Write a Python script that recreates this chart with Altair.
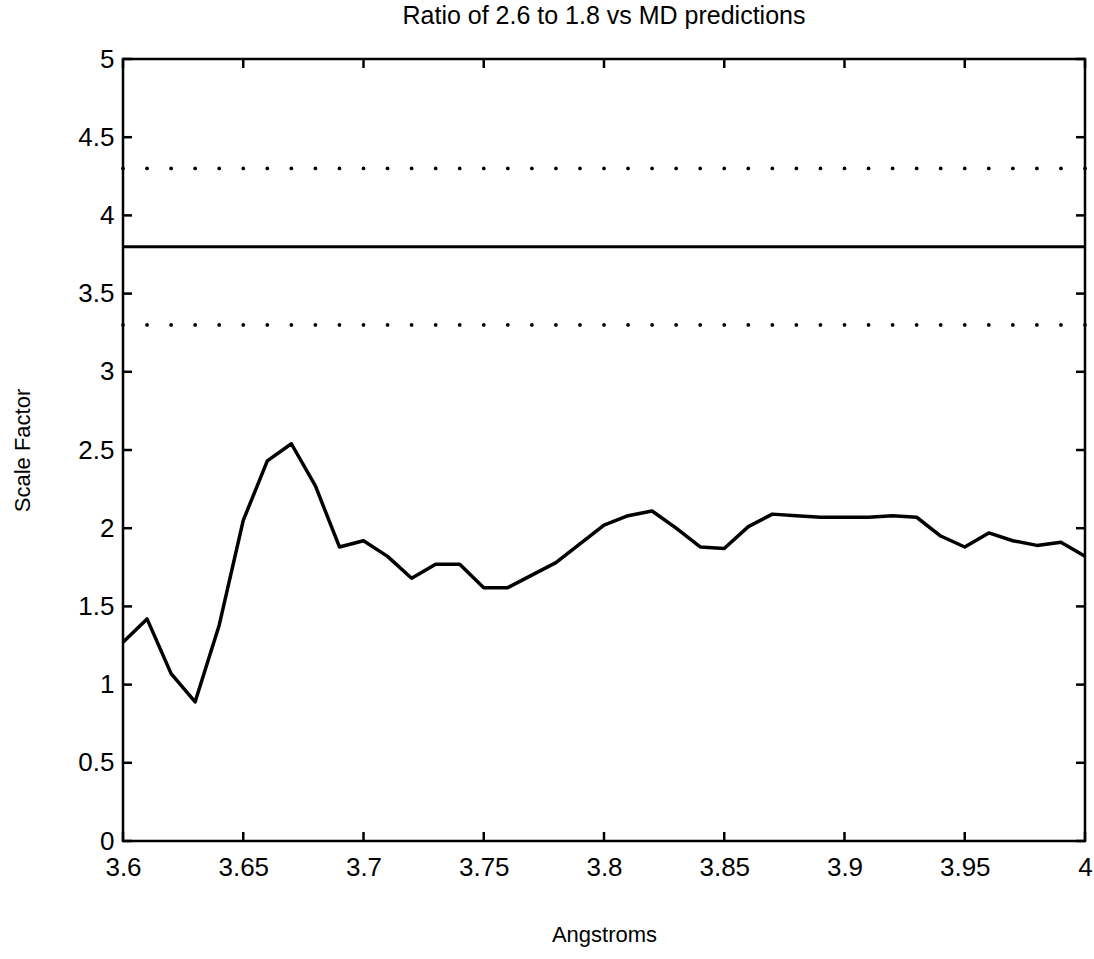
import altair as alt
import pandas as pd

# ---- data ----
angstroms = [3.60, 3.61, 3.62, 3.63, 3.64, 3.65, 3.66, 3.67, 3.68, 3.69,
             3.70, 3.71, 3.72, 3.73, 3.74, 3.75, 3.76, 3.77, 3.78, 3.79,
             3.80, 3.81, 3.82, 3.83, 3.84, 3.85, 3.86, 3.87, 3.88, 3.89,
             3.90, 3.91, 3.92, 3.93, 3.94, 3.95, 3.96, 3.97, 3.98, 3.99, 4.00]
scale_factor = [1.27, 1.42, 1.07, 0.89, 1.38, 2.05, 2.43, 2.54, 2.27, 1.88,
                1.92, 1.82, 1.68, 1.77, 1.77, 1.62, 1.62, 1.70, 1.78, 1.90,
                2.02, 2.08, 2.11, 2.00, 1.88, 1.87, 2.01, 2.09, 2.08, 2.07,
                2.07, 2.07, 2.08, 2.07, 1.95, 1.88, 1.97, 1.92, 1.89, 1.91, 1.82]
dotted_levels = [4.3, 3.3]
separator_level = [3.8]
x_ticks = [3.6, 3.65, 3.7, 3.75, 3.8, 3.85, 3.9, 3.95, 4.0]
y_ticks = [0, 0.5, 1, 1.5, 2, 2.5, 3, 3.5, 4, 4.5, 5]
x_min, x_max = 3.6, 4.0
y_min, y_max = 0, 5

FONT = "Liberation Sans"

line_df = pd.DataFrame({"x": angstroms, "y": scale_factor})
dots_df = pd.DataFrame([{"x": a, "y": lv} for lv in dotted_levels for a in angstroms])
sep_df = pd.DataFrame({"y": separator_level})

xs = alt.Scale(domain=[x_min, x_max], nice=False, zero=False)
ys = alt.Scale(domain=[y_min, y_max], nice=False, zero=False)

x_axis = alt.Axis(values=x_ticks, title="Angstroms", grid=False, domain=False, ticks=False,
                  labelFont=FONT, labelFontSize=26, labelColor="black", labelPadding=13,
                  labelFlush=False, labelExpr="format(datum.value, '~g')",
                  titleFont=FONT, titleFontSize=22, titleFontWeight="normal",
                  titleColor="black", titlePadding=44)
y_axis = alt.Axis(values=y_ticks, title="Scale Factor", grid=False, domain=False, ticks=False,
                  labelFont=FONT, labelFontSize=26, labelColor="black", labelPadding=9,
                  labelFlush=False, labelExpr="format(datum.value, '~g')",
                  titleFont=FONT, titleFontSize=22, titleFontWeight="normal",
                  titleColor="black", titlePadding=43)

line = alt.Chart(line_df).mark_line(color="black", strokeWidth=3.5, strokeJoin="round").encode(
    x=alt.X("x:Q", scale=xs, axis=x_axis),
    y=alt.Y("y:Q", scale=ys, axis=y_axis),
)

dots = alt.Chart(dots_df).mark_circle(color="black", size=14, opacity=1).encode(
    x=alt.X("x:Q", scale=xs),
    y=alt.Y("y:Q", scale=ys),
)

sep = alt.Chart(sep_df).mark_rule(color="black", strokeWidth=3).encode(
    y=alt.Y("y:Q", scale=ys),
)

# inward tick marks on all four sides
tick_size = 324
left_df = pd.DataFrame({"x": [x_min] * len(y_ticks), "y": y_ticks})
right_df = pd.DataFrame({"x": [x_max] * len(y_ticks), "y": y_ticks})
bottom_df = pd.DataFrame({"x": x_ticks, "y": [y_min] * len(x_ticks)})
top_df = pd.DataFrame({"x": x_ticks, "y": [y_max] * len(x_ticks)})


def ticks(df, path):
    return alt.Chart(df).mark_point(shape=path, filled=False, stroke="black",
                                    strokeWidth=2.5, size=tick_size, opacity=1).encode(
        x=alt.X("x:Q", scale=xs), y=alt.Y("y:Q", scale=ys))


tick_layers = [
    ticks(left_df, "M0,0L1,0"),
    ticks(right_df, "M0,0L-1,0"),
    ticks(bottom_df, "M0,0L0,-1"),
    ticks(top_df, "M0,0L0,1"),
]

chart = alt.layer(dots, sep, line, *tick_layers).properties(
    width=962,
    height=782,
    background="white",
    title=alt.Title("Ratio of 2.6 to 1.8 vs MD predictions", font=FONT, fontSize=25,
                    fontWeight="normal", color="black", anchor="middle", offset=17),
    autosize=alt.AutoSizeParams(type="none"),
    padding={"left": 123, "top": 59, "right": 9, "bottom": 118},
).configure_view(stroke="black", strokeWidth=2.5)

chart.save("out.html", embed_options={"renderer": "svg", "actions": False})
